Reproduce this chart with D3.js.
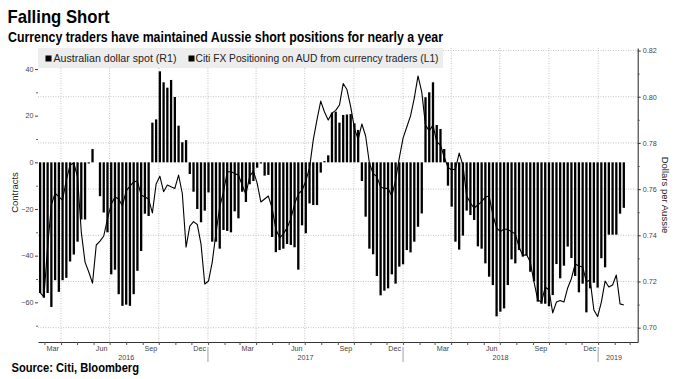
<!DOCTYPE html>
<html><head><meta charset="utf-8">
<script src="https://cdn.jsdelivr.net/npm/d3@7"></script>
<style>body{margin:0;background:#fff}svg{display:block}</style>
</head><body><svg id="c" width="686" height="379"></svg>
<script>
// ---- data (weekly) ----
const dates = [
"2016-02-22","2016-02-29","2016-03-07","2016-03-14","2016-03-21","2016-03-28","2016-04-04","2016-04-11","2016-04-18","2016-04-25",
"2016-05-02","2016-05-09","2016-05-16","2016-05-23","2016-05-30","2016-06-06","2016-06-13","2016-06-20","2016-06-27","2016-07-04",
"2016-07-11","2016-07-18","2016-07-25","2016-08-01","2016-08-08","2016-08-15","2016-08-22","2016-08-29","2016-09-05","2016-09-12",
"2016-09-19","2016-09-26","2016-10-03","2016-10-10","2016-10-17","2016-10-24","2016-10-31","2016-11-07","2016-11-14","2016-11-21",
"2016-11-28","2016-12-05","2016-12-12","2016-12-19","2016-12-26","2017-01-02","2017-01-09","2017-01-16","2017-01-23","2017-01-30",
"2017-02-06","2017-02-13","2017-02-20","2017-02-27","2017-03-06","2017-03-13","2017-03-20","2017-03-27","2017-04-03","2017-04-10",
"2017-04-17","2017-04-24","2017-05-01","2017-05-08","2017-05-15","2017-05-22","2017-05-29","2017-06-05","2017-06-12","2017-06-19",
"2017-06-26","2017-07-03","2017-07-10","2017-07-17","2017-07-24","2017-07-31","2017-08-07","2017-08-14","2017-08-21","2017-08-28",
"2017-09-04","2017-09-11","2017-09-18","2017-09-25","2017-10-02","2017-10-09","2017-10-16","2017-10-23","2017-10-30","2017-11-06",
"2017-11-13","2017-11-20","2017-11-27","2017-12-04","2017-12-11","2017-12-18","2017-12-25","2018-01-01","2018-01-08","2018-01-15",
"2018-01-22","2018-01-29","2018-02-05","2018-02-12","2018-02-19","2018-02-26","2018-03-05","2018-03-12","2018-03-19","2018-03-26",
"2018-04-02","2018-04-09","2018-04-16","2018-04-23","2018-04-30","2018-05-07","2018-05-14","2018-05-21","2018-05-28","2018-06-04",
"2018-06-11","2018-06-18","2018-06-25","2018-07-02","2018-07-09","2018-07-16","2018-07-23","2018-07-30","2018-08-06","2018-08-13",
"2018-08-20","2018-08-27","2018-09-03","2018-09-10","2018-09-17","2018-09-24","2018-10-01","2018-10-08","2018-10-15","2018-10-22",
"2018-10-29","2018-11-05","2018-11-12","2018-11-19","2018-11-26","2018-12-03","2018-12-10","2018-12-17","2018-12-24","2018-12-31",
"2019-01-07","2019-01-14","2019-01-21","2019-01-28","2019-02-04","2019-02-11","2019-02-18"];

// Citi FX Positioning on AUD from currency traders (L1), contracts
const positioning = [
-56,-58,-56,-62,-50.5,-55.5,-50.5,-49.5,-42.5,-39.5,
-34,-24.5,-24.5,-0.5,5.7,null,-14.5,-21.5,-30,-48,
-46,-56.5,-61.5,-61,-61.5,-56.5,-46.5,-38,-22,-23,
17,18.4,39,34.3,32,35.3,28,15.7,8.6,9.5,
-5,-12.6,-20,-25.7,-20.7,-12.9,-34,-34,-37,-29,
-29.4,-30,-21,-24,-12.6,-17,-9.4,-8,-2.3,-0.5,
-5.7,-5.4,-32,-38.5,-37.6,-37,-35,-35.4,-36.4,-46,
-27,-30.4,-17.6,-18.3,-18.3,-4.4,0.5,3,21.3,21.7,
17,20.3,20.5,20.7,16.7,13.9,-8,-23.3,-37,-39.4,
-48.7,-57,-55,-54,-48,-52,-44.7,-43.7,-37.6,-38.6,
-34,-27.6,-21.9,27.9,30,34.3,16,14.3,5.7,-10,
-19,-34,-37.4,-31.4,-20.7,-22.6,-24.7,-36,-37,-43.3,
-49,-52.6,-66,-64,-62.6,-52.6,-41.6,-43.3,-37.6,-40.4,
-40,-46.9,-51,-59.7,-60.6,-60.6,-61.7,-56.9,-43.6,-49.7,
-44.3,-36.1,-41,-48.7,-55.7,-52,-64.3,-54,-51.6,-53.7,
-41.1,-45,-31,-31,-31,-22,-19.5];

// Australian dollar spot (R1), USD per AUD
const audSpot = [
0.7152,0.7133,0.7349,0.7531,0.7583,0.7566,0.7553,0.7639,0.7704,0.7713,
0.7652,0.7414,0.7284,0.7241,0.7193,0.7358,0.7375,0.7397,0.7471,0.7535,
0.7566,0.7557,0.7527,0.7592,0.7613,0.7631,0.7635,0.7574,0.7566,0.7557,
0.7497,0.7622,0.7656,0.7589,0.7618,0.7610,0.7603,0.7661,0.7581,0.7349,
0.7440,0.7459,0.7447,0.7362,0.7189,0.7202,0.7284,0.7410,0.7523,0.7587,
0.7674,0.7676,0.7667,0.7661,0.7618,0.7577,0.7655,0.7678,0.7626,0.7544,
0.7557,0.7570,0.7518,0.7427,0.7389,0.7406,0.7432,0.7471,0.7535,0.7579,
0.7594,0.7635,0.7692,0.7813,0.7901,0.7981,0.7934,0.7899,0.7929,0.7941,
0.7964,0.8057,0.8031,0.7957,0.7864,0.7815,0.7882,0.7830,0.7713,0.7667,
0.7654,0.7609,0.7603,0.7603,0.7570,0.7639,0.7735,0.7821,0.7869,0.7917,
0.7994,0.8090,0.8020,0.7877,0.7852,0.7877,0.7804,0.7791,0.7739,0.7694,
0.7683,0.7687,0.7756,0.7704,0.7570,0.7540,0.7518,0.7531,0.7546,0.7566,
0.7570,0.7488,0.7432,0.7416,0.7427,0.7425,0.7416,0.7406,0.7349,0.7312,
0.7317,0.7284,0.7198,0.7120,0.7111,0.7176,0.7163,0.7064,0.7111,0.7118,
0.7111,0.7172,0.7213,0.7276,0.7267,0.7263,0.7199,0.7206,0.7077,0.7048,
0.7111,0.7202,0.7176,0.7185,0.7228,0.7103,0.7098];

const leftTicks = [-60,-40,-20,0,20,40];
const leftMinor = [-70,-50,-30,-10,10,30];
const rightTicks = [0.70,0.72,0.74,0.76,0.78,0.80,0.82];
const rightMinor = [0.71,0.73,0.75,0.77,0.79,0.81];
const monthNames = {2:"Mar",5:"Jun",8:"Sep",11:"Dec"};
const legendLabels = ["Australian dollar spot (R1)","Citi FX Positioning on AUD from currency traders (L1)"];
const titleText = "Falling Short";
const subtitleText = "Currency traders have maintained Aussie short positions for nearly a year";
const sourceText = "Source: Citi, Bloomberg";
const leftTitle = "Contracts";
const rightTitle = "Dollars per Aussie";

// ---- layout ----
const L = 38, R = 637.7, T = 48, B = 342;
const parse = d3.utcParse("%Y-%m-%d");
const rows = dates.map((d,i)=>({date:parse(d), pos:positioning[i], aud:audSpot[i]}));
const x = d3.scaleUtc().domain([parse("2016-02-18"), parse("2019-03-16")]).range([L, R]);
const yL = d3.scaleLinear().domain([-77, 49]).range([B, T]);
const yR = d3.scaleLinear().domain([0.6938, 0.8211]).range([B, T]);

const svg = d3.select("#c");
svg.append("rect").attr("width",686).attr("height",379).attr("fill","#fff");
const sans = "'Liberation Sans', Arial, sans-serif";
const narrow = "'Liberation Sans Narrow', 'Liberation Sans', Arial, sans-serif";

// gridlines
const months = d3.utcMonth.range(d3.utcMonth.ceil(x.domain()[0]), x.domain()[1]);
const quarters = months.filter(m => m.getUTCMonth() % 3 === 0);
svg.append("g").selectAll("line").data(quarters).join("line")
  .attr("x1", d=>x(d)).attr("x2", d=>x(d)).attr("y1", T).attr("y2", B)
  .attr("stroke","#b4b4b4").attr("stroke-width",0.8).attr("stroke-dasharray","1,1.5");
svg.append("g").selectAll("line").data(rightTicks).join("line")
  .attr("x1", L).attr("x2", R).attr("y1", d=>yR(d)).attr("y2", d=>yR(d))
  .attr("stroke","#b4b4b4").attr("stroke-width",0.8).attr("stroke-dasharray","1,1.5");

// bars
const bw = 2.3;
svg.append("g").selectAll("rect").data(rows.filter(r=>r.pos!==null)).join("rect")
  .attr("x", d=>x(d.date)-bw/2).attr("width", bw)
  .attr("y", d=>Math.min(yL(d.pos), yL(0)))
  .attr("height", d=>Math.max(0.6, Math.abs(yL(d.pos)-yL(0))))
  .attr("fill","#000");

// line
svg.append("path").datum(rows)
  .attr("d", d3.line().x(d=>x(d.date)).y(d=>yR(d.aud)))
  .attr("fill","none").attr("stroke","#000").attr("stroke-width",1.1).attr("stroke-linejoin","round");

// legend
svg.append("rect").attr("x",L).attr("y",T).attr("width",405).attr("height",20).attr("fill","#ededed");
const leg = [{x:45.5, tx:53.5, w:123},{x:188.5, tx:195.5, w:243}];
leg.forEach((l,i)=>{
  svg.append("rect").attr("x",l.x).attr("y",55.5).attr("width",6).attr("height",6).attr("fill","#000");
  svg.append("text").attr("x",l.tx).attr("y",62).attr("font-family",narrow).attr("font-size",10.5)
    .attr("fill","#222").attr("textLength",l.w).attr("lengthAdjust","spacingAndGlyphs").text(legendLabels[i]);
});

// left axis
const gl = svg.append("g").attr("transform",`translate(${L},0)`)
  .call(d3.axisLeft(yL).tickValues(leftTicks).tickSize(3).tickPadding(1.5));
gl.select(".domain").remove();
gl.selectAll("text").attr("font-family",sans).attr("font-size",7.2).attr("fill","#444");
gl.selectAll("line").attr("stroke","#444");
const glm = svg.append("g").attr("transform",`translate(${L},0)`)
  .call(d3.axisLeft(yL).tickValues(leftMinor).tickSize(2).tickFormat(""));
glm.select(".domain").remove();
glm.selectAll("line").attr("stroke","#666");

// right axis
const gr = svg.append("g").attr("transform",`translate(${R},0)`)
  .call(d3.axisRight(yR).tickValues(rightTicks).tickSize(3).tickSizeOuter(0).tickPadding(2).tickFormat(d3.format(".2f")));
gr.select(".domain").attr("stroke","#222");
gr.selectAll("text").attr("font-family",sans).attr("font-size",7.2).attr("fill","#444");
gr.selectAll("line").attr("stroke","#333");
const grm = svg.append("g").attr("transform",`translate(${R},0)`)
  .call(d3.axisRight(yR).tickValues(rightMinor).tickSize(2).tickSizeOuter(0).tickFormat(""));
grm.select(".domain").remove();
grm.selectAll("line").attr("stroke","#555");

// bottom axis
const gb = svg.append("g").attr("transform",`translate(0,${B})`)
  .call(d3.axisBottom(x).tickValues(months).tickSize(3).tickSizeOuter(0).tickFormat(""));
gb.select(".domain").attr("stroke","#333");
gb.selectAll("line").attr("stroke","#555");

// month labels (centered within month)
const [d0, d1] = x.domain();
const labelMonths = months.filter(m => monthNames[m.getUTCMonth()] !== undefined && d3.utcMonth.offset(m,1) <= d1);
svg.append("g").selectAll("text").data(labelMonths).join("text")
  .attr("x", d=> (x(d)+x(d3.utcMonth.offset(d,1)))/2).attr("y",351)
  .attr("text-anchor","middle").attr("font-family",sans).attr("font-size",7.2).attr("fill","#444")
  .text(d=>monthNames[d.getUTCMonth()]);

// years
const years = d3.utcYear.range(d3.utcYear.floor(d0), d1).concat([]);
const yearStarts = d3.utcYear.range(d3.utcYear.ceil(d0), d1);
svg.append("g").selectAll("line").data(yearStarts).join("line")
  .attr("x1",d=>x(d)).attr("x2",d=>x(d)).attr("y1",347).attr("y2",362)
  .attr("stroke","#888").attr("stroke-width",0.8);
const yrs = [2016,2017,2018,2019];
svg.append("g").selectAll("text").data(yrs).join("text")
  .attr("x", yv => {
    const ms = months.filter(m=>m.getUTCFullYear()===yv);
    const a = ms[0];
    const last = d3.utcMonth.offset(ms[ms.length-1],1);
    const b = last <= d1 ? last : ms[ms.length-1];
    return (x(a)+x(b))/2;
  })
  .attr("y",360).attr("text-anchor","middle").attr("font-family",sans).attr("font-size",7.2).attr("fill","#444")
  .text(d=>d);

// axis titles
svg.append("text").attr("transform","translate(17.5,192.5) rotate(-90)").attr("text-anchor","middle")
  .attr("font-family",sans).attr("font-size",9.5).attr("fill","#222").text(leftTitle);
svg.append("text").attr("transform","translate(662,195) rotate(90)").attr("text-anchor","middle")
  .attr("font-family",sans).attr("font-size",9.5).attr("fill","#222").text(rightTitle);

// titles
svg.append("text").attr("x",7.5).attr("y",22.5).attr("font-family",sans).attr("font-weight","bold")
  .attr("font-size",19).attr("fill","#000").attr("textLength",102).attr("lengthAdjust","spacingAndGlyphs").text(titleText);
svg.append("text").attr("x",8).attr("y",41.5).attr("font-family",narrow).attr("font-weight","bold")
  .attr("font-size",15).attr("fill","#000").attr("textLength",435).attr("lengthAdjust","spacingAndGlyphs").text(subtitleText);
svg.append("text").attr("x",11.5).attr("y",372).attr("font-family",sans).attr("font-weight","bold")
  .attr("font-size",12).attr("fill","#000").attr("textLength",127.5).attr("lengthAdjust","spacingAndGlyphs").text(sourceText);
</script></body></html>
